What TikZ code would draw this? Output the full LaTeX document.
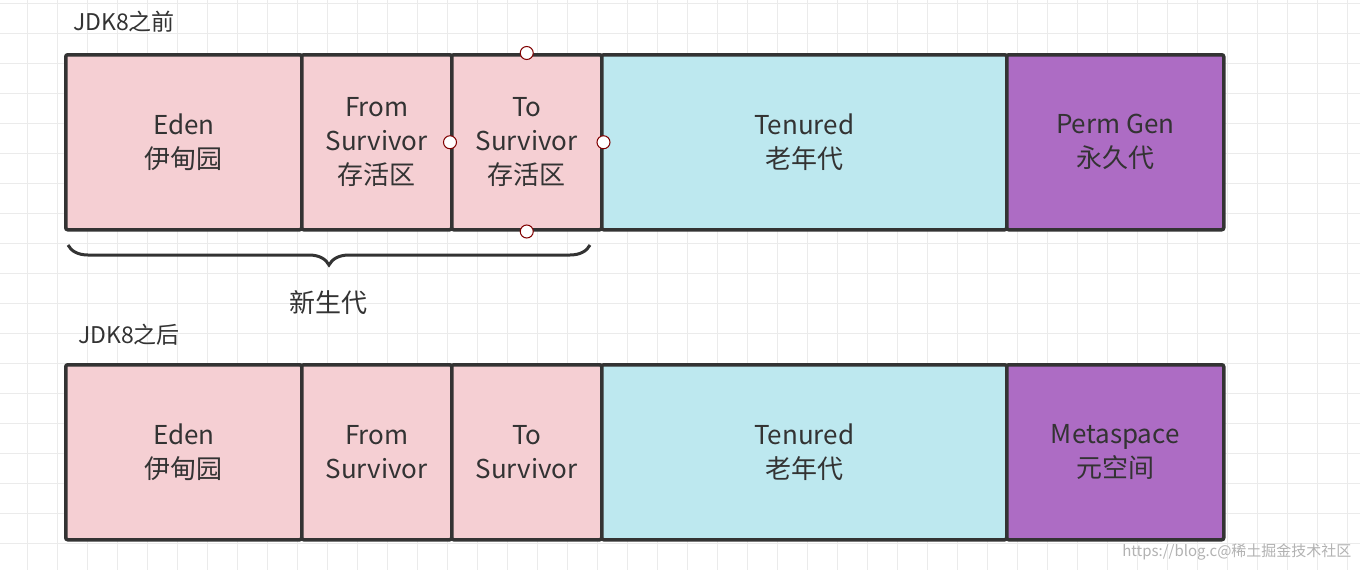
\documentclass[tikz,border=0pt]{standalone}
\usepackage{fontspec}
\setmainfont{Noto Sans CJK SC}
\usetikzlibrary{decorations.pathreplacing}
\definecolor{pinkc}{HTML}{F5CFD3}
\definecolor{cyanc}{HTML}{BDE8EF}
\definecolor{purc}{HTML}{AD6CC4}
\definecolor{edge}{HTML}{333333}
\definecolor{gridc}{HTML}{EBEBEB}
\begin{document}
\begin{tikzpicture}[x=1pt,y=-1pt,
  cell/.style={draw=edge,line width=3.5pt,rounded corners=2pt,minimum height=175pt,inner sep=0pt,align=center,font=\fontsize{26}{34}\selectfont,text=edge,anchor=north west},
  handle/.style={circle,draw=red!50!black,fill=white,line width=1pt,minimum size=13pt,inner sep=0pt},
  lbl/.style={font=\fontsize{23}{26}\selectfont,text=edge}]
\useasboundingbox (0,0) rectangle (1360,570);
\fill[white] (0,0) rectangle (1360,570);
\foreach \x in {27,57,...,1357} \draw[gridc,line width=0.8pt] (\x,0) -- (\x,570);
\foreach \y in {3,33,...,569} \draw[gridc,line width=0.8pt] (0,\y) -- (1360,\y);
\node[lbl] (t1) at (124,22) {JDK8之前};
\node[cell,fill=pinkc,minimum width=236pt] (e1) at (64,53) {Eden\\伊甸园};
\node[cell,fill=pinkc,minimum width=150pt] (f1) at (300,53) {From\\Survivor\\存活区};
\node[cell,fill=pinkc,minimum width=150pt] (s1) at (450,53) {To\\Survivor\\存活区};
\node[cell,fill=cyanc,minimum width=405pt] (o1) at (600,53) {Tenured\\老年代};
\node[cell,fill=purc,minimum width=217pt] (p1) at (1005,53) {Perm Gen\\永久代};
\node[handle] (h1) at (s1.north) {};
\node[handle] (h2) at (s1.west) {};
\node[handle] (h3) at (s1.east) {};
\node[handle] (h4) at (s1.south) {};
\coordinate (b1) at (68,245);
\coordinate (b2) at (590,245);
\draw[edge,line width=3pt,decorate,decoration={brace,mirror,amplitude=20pt}] (b1) -- (b2);
\node[lbl,font=\fontsize{26}{30}\selectfont] (ng) at (328,303) {新生代};
\node[lbl] (t2) at (129,335) {JDK8之后};
\node[cell,fill=pinkc,minimum width=236pt] (e2) at (64,363) {Eden\\伊甸园};
\node[cell,fill=pinkc,minimum width=150pt] (f2) at (300,363) {From\\Survivor};
\node[cell,fill=pinkc,minimum width=150pt] (s2) at (450,363) {To\\Survivor};
\node[cell,fill=cyanc,minimum width=405pt] (o2) at (600,363) {Tenured\\老年代};
\node[cell,fill=purc,minimum width=217pt] (p2) at (1005,363) {Metaspace\\元空间};
\node[font=\fontsize{15}{18}\selectfont,text=gray!60,anchor=east] (wm) at (1355,552) {https://blog.c@稀土掘金技术社区};
\end{tikzpicture}
\end{document}
